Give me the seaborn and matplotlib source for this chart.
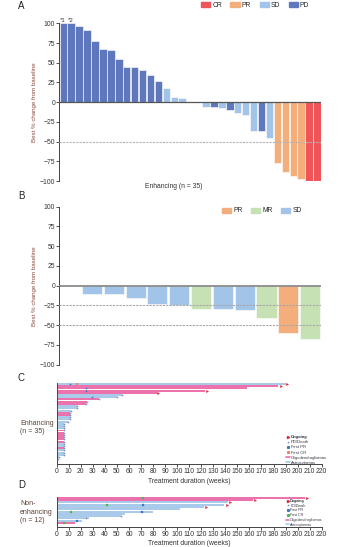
import numpy as np
import pandas as pd
import matplotlib
matplotlib.use('Agg')
import matplotlib.pyplot as plt
import seaborn as sns
from matplotlib.patches import Patch
from matplotlib.lines import Line2D

# ---------------- data ----------------
# Panel A : enhancing, best % change
valsA = [100, 100, 96, 92, 78, 67, 66, 55, 45, 44, 41, 35, 27, 18, 7, 5, 0, 0,
         -6, -6, -8, -10, -14, -16, -36, -37, -46, -77, -88, -94, -98, -100, -100]
respA = (['PD'] * 13 + ['SD'] * 5 +
         ['SD', 'PD', 'SD', 'PD', 'SD', 'SD', 'SD', 'PD', 'SD'] +
         ['PR'] * 4 + ['CR'] * 2)
legendA = ['CR', 'PR', 'SD', 'PD']

# Panel B : non-enhancing, best % change
valsB = [0, -10, -11, -15, -23, -25, -29, -29, -31, -41, -60, -67]
respB = ['SD', 'SD', 'SD', 'SD', 'SD', 'SD', 'MR', 'SD', 'SD', 'MR', 'PR', 'MR']
legendB = ['PR', 'MR', 'SD']

# Panel C : enhancing swimmer (weeks)
durC = [190, 184, 158, 123, 83, 54, 50, 35, 25, 24, 17, 17, 12, 11, 11, 11, 11, 9,
        6, 6, 6, 6, 6, 6, 6, 6, 6, 6, 6, 6, 6, 6, 6, 2, 1]
histC = ['A', 'O', 'O', 'O', 'O', 'A', 'A', 'O', 'O', 'O', 'A', 'A', 'A', 'O', 'O',
         'A', 'A', 'A', 'A', 'A', 'A', 'O', 'O', 'O', 'O', 'O', 'O', 'A', 'A', 'O',
         'A', 'A', 'A', 'A', 'A']
ongoingC_rows = [0, 1, 3, 4]
ongoingC_wk = [191, 186, 125, 84]
firstPRC_rows = [0, 2, 3, 6]
firstPRC_wk = [11, 24, 24, 29]
firstCRC_rows = [0]
firstCRC_wk = [17]
pdC_rows = list(range(5, 35))
pdC_wk = [54, 50, 35, 25, 24, 17, 17, 12, 11, 11, 11, 11, 9, 6, 6, 6, 6, 6, 6, 6, 6,
          6, 6, 6, 6, 6, 6, 6, 2, 1]

# Panel D : non-enhancing swimmer (weeks)
durD = [206, 163, 142, 139, 122, 102, 80, 57, 53, 27, 21, 15]
histD = ['O', 'O', 'A', 'A', 'A', 'A', 'A', 'A', 'A', 'A', 'A', 'O']
ongoingD_rows = [0, 1, 2, 3, 4]
ongoingD_wk = [208, 165, 144, 141, 124]
firstCRD_rows = [0, 3, 6, 11]
firstCRD_wk = [72, 42, 12, 6]
firstPRD_rows = [3, 6, 10]
firstPRD_wk = [72, 71, 17]
pdD_rows = [8, 9]
pdD_wk = [53, 24]

xticksCD = list(range(0, 221, 10))
yticksAB = [100, 75, 50, 25, 0, -25, -50, -75, -100]

# ---------------- style ----------------
sns.set_theme(style='ticks')
plt.rcParams['font.family'] = ['Liberation Sans', 'DejaVu Sans']
plt.rcParams['axes.unicode_minus'] = True

col = {'CR': '#EF5558', 'PR': '#F4AE7B', 'SD': '#A2C4E8', 'PD': '#5F78BD',
       'MR': '#C6E1B3'}
histcol = {'O': '#EC72AD', 'A': '#AACAEA'}
c_ongo = '#E5262F'
c_pd = '#7F93C6'
c_pr = '#3C74C8'
brown = '#8B4A3C'
dark = '#333333'
FS = 4.9

W, H = 364, 547
fig = plt.figure(figsize=(W / 100, H / 100), dpi=100)


def ax_px(l, t, r, b):
    return fig.add_axes([l / W, 1 - b / H, (r - l) / W, (b - t) / H])


def style_wf(ax, vals, ylab=True):
    ax.set_xlim(-0.5, len(vals) - 0.5)
    ax.set_ylim(-100, 100)
    ax.set_yticks(yticksAB)
    ax.set_yticklabels([str(v).replace('-', '\u2212') for v in yticksAB])
    ax.tick_params(axis='y', labelsize=FS, length=2, width=0.6, pad=1,
                   colors=dark)
    ax.set_xticks([])
    ax.set_xlabel('')
    for s in ['top', 'right', 'bottom']:
        ax.spines[s].set_visible(False)
    ax.spines['left'].set_linewidth(0.7)
    ax.spines['left'].set_color('#444444')
    ax.set_ylabel('Best % change from baseline', fontsize=4.4, color=brown,
                  labelpad=2)
    ax.patch.set_alpha(0)


# ---------------- Panel A ----------------
axA = ax_px(59.3, 23.3, 321, 181)
dfA = pd.DataFrame({'pos': range(len(valsA)), 'val': valsA, 'resp': respA})
sns.barplot(data=dfA, x='pos', y='val', hue='resp', palette=col, dodge=False,
            width=0.94, saturation=1, edgecolor='white', linewidth=0.4,
            legend=False, ax=axA, zorder=2)
axA.axhline(0, color='#555555', lw=0.9, zorder=3)
axA.axhline(-50, color='#B5B5B5', lw=0.8, ls=(0, (2, 1)), zorder=4)
style_wf(axA, valsA)
axA.text(0, 101, '*1', ha='center', va='bottom', fontsize=4.3, color=dark)
axA.text(1, 101, '*2', ha='center', va='bottom', fontsize=4.3, color=dark)
axA.legend(handles=[Patch(color=col[k], label=k) for k in legendA],
           loc='center left', bbox_to_anchor=(201 / W, 1 - 5.5 / H),
           bbox_transform=fig.transFigure, ncol=4, frameon=False,
           fontsize=FS, handlelength=1.35, handleheight=0.8,
           handletextpad=0.3, columnspacing=1.25, borderpad=0,
           borderaxespad=0)
fig.text(174 / W, 1 - 186 / H, 'Enhancing (n = 35)', ha='center',
         va='center', fontsize=FS, color=dark)

# ---------------- Panel B ----------------
axB = ax_px(59.3, 206.7, 321, 364.7)
dfB = pd.DataFrame({'pos': range(len(valsB)), 'val': valsB, 'resp': respB})
sns.barplot(data=dfB, x='pos', y='val', hue='resp', palette=col, dodge=False,
            width=0.92, saturation=1, edgecolor='white', linewidth=0.4,
            legend=False, ax=axB, zorder=2)
axB.axhline(0, color='#777777', lw=1.1, zorder=3)
axB.axhline(-25, color='#A8A8A8', lw=0.8, ls=(0, (2, 1)), zorder=4)
axB.axhline(-50, color='#A8A8A8', lw=0.8, ls=(0, (2, 1)), zorder=4)
style_wf(axB, valsB)
axB.legend(handles=[Patch(color=col[k], label=k) for k in legendB],
           loc='center left', bbox_to_anchor=(222 / W, 1 - 211 / H),
           bbox_transform=fig.transFigure, ncol=3, frameon=False,
           fontsize=FS, handlelength=1.35, handleheight=0.8,
           handletextpad=0.3, columnspacing=1.25, borderpad=0,
           borderaxespad=0)


# ---------------- swimmer helpers ----------------
def swimmer(ax, dur, hist, nrows_extra, marks):
    n = len(dur)
    df = pd.DataFrame({'row': range(n), 'dur': dur, 'hist': hist})
    sns.barplot(data=df, x='dur', y='row', hue='hist', palette=histcol,
                orient='h', dodge=False, width=0.9, saturation=1,
                order=list(range(n)), linewidth=0, legend=False, ax=ax)
    for rows, wks, mk, c, s, lw in marks:
        dm = pd.DataFrame({'row': rows, 'wk': wks})
        sns.scatterplot(data=dm, x='wk', y='row', marker=mk, color=c, s=s,
                        linewidth=lw, edgecolor=c, ax=ax, zorder=5,
                        legend=False)
    ax.set_xlim(0, 220)
    ax.set_ylim(n - 0.5 + nrows_extra, -0.5)
    ax.set_xticks(xticksCD)
    ax.set_xticklabels([str(v) for v in xticksCD])
    ax.tick_params(axis='x', labelsize=FS, length=2, width=0.6, pad=1,
                   colors=dark)
    ax.set_yticks([])
    ax.set_ylabel('')
    ax.set_xlabel('Treatment duration (weeks)', fontsize=FS, color=dark,
                  labelpad=2)
    for s in ['top', 'right']:
        ax.spines[s].set_visible(False)
    for s in ['left', 'bottom']:
        ax.spines[s].set_linewidth(0.7)
        ax.spines[s].set_color('#444444')
    ax.patch.set_alpha(0)


def swim_legend(ax, x, y, cr_color, fs, spacing):
    hs = [Line2D([], [], ls='none', marker='>', color=c_ongo, ms=1.5,
                 label='Ongoing'),
          Line2D([], [], ls='none', marker='+', color=c_pd, ms=1.8, mew=0.5,
                 label='PD/Death'),
          Line2D([], [], ls='none', marker='s', color=c_pr, ms=1.2,
                 label='First PR'),
          Line2D([], [], ls='none', marker='s', color=cr_color, ms=1.2,
                 label='First CR'),
          Line2D([], [], color=histcol['O'], lw=1.2,
                 label='Oligodendrogliomas'),
          Line2D([], [], color=histcol['A'], lw=1.2, label='Astrocytomas')]
    lg = ax.legend(handles=hs, loc='upper left', bbox_to_anchor=(x / W, 1 - y / H),
                   bbox_transform=fig.transFigure, frameon=False, fontsize=fs,
                   handlelength=0.9, handletextpad=0.3, labelspacing=spacing,
                   borderpad=0, borderaxespad=0)
    for t in lg.get_texts():
        t.set_color('#333344')
    lg.get_texts()[0].set_fontweight('bold')


# ---------------- Panel C ----------------
axC = ax_px(56.7, 382.8, 321.7, 464)
c_crC = '#F0806E'
marksC = [
    (pdC_rows, pdC_wk, '+', c_pd, 4, 0.5),
    (firstPRC_rows, firstPRC_wk, '+', c_pr, 4, 0.5),
    (firstCRC_rows, firstCRC_wk, 's', c_crC, 2, 0.2),
    (ongoingC_rows, ongoingC_wk, '>', c_ongo, 3, 0.2),
]
swimmer(axC, durC, histC, 1.6, marksC)
swim_legend(axC, 286, 435, c_crC, 3.0, 0.28)
fig.text(20 / W, 1 - 427.5 / H, 'Enhancing\n(n = 35)', ha='left', va='center',
         fontsize=5.0, color='#5B4036', linespacing=1.35)

# ---------------- Panel D ----------------
axD = ax_px(56.7, 496.6, 321.7, 526.5)
c_crD = '#49B54A'
marksD = [
    (pdD_rows, pdD_wk, '+', c_pd, 4, 0.5),
    (firstPRD_rows, firstPRD_wk, 's', c_pr, 2, 0.2),
    (firstCRD_rows, firstCRD_wk, 's', c_crD, 2, 0.2),
    (ongoingD_rows, ongoingD_wk, '>', c_ongo, 3, 0.2),
]
swimmer(axD, durD, histD, 1.0, marksD)
swim_legend(axD, 286, 499, c_crD, 2.6, 0.2)
fig.text(20 / W, 1 - 512 / H, 'Non-\nenhancing\n(n = 12)', ha='left',
         va='center', fontsize=5.0, color='#5B4036', linespacing=1.35)

# ---------------- panel letters ----------------
for lab, y in [('A', 6), ('B', 196), ('C', 378), ('D', 485)]:
    fig.text(18 / W, 1 - y / H, lab, ha='left', va='center', fontsize=7,
             color='#222222')

fig.savefig('out.png', dpi=100)
